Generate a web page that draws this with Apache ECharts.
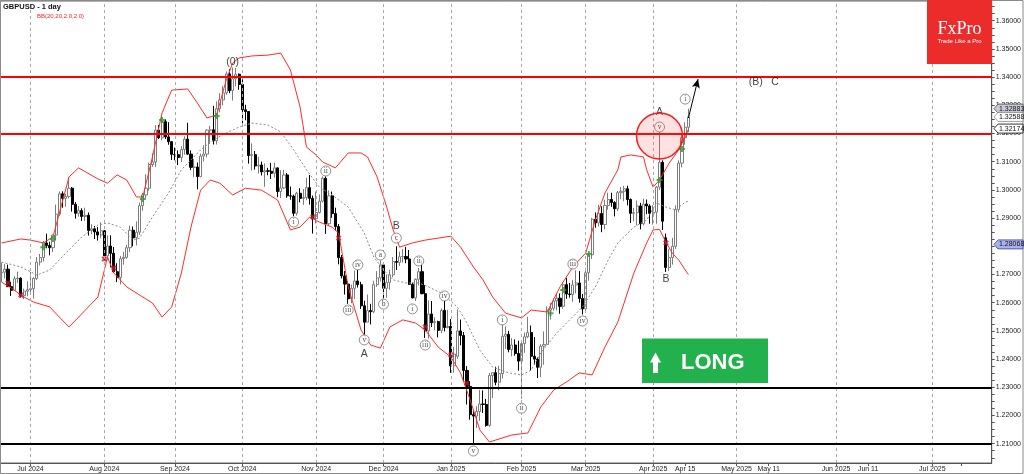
<!DOCTYPE html>
<html><head><meta charset="utf-8">
<script src="https://cdn.jsdelivr.net/npm/echarts@6/dist/echarts.min.js"></script>
<style>html,body{margin:0;padding:0;background:#fff}#c{width:1024px;height:474px}</style>
</head><body><div id="c"></div>
<script>
// ---- DATA: daily candles [date, open, high, low, close] ----
const candleRows = [
['2024-06-18',1.2706,1.2742,1.2673,1.2708],['2024-06-19',1.2708,1.2738,1.2686,1.2719],['2024-06-20',1.2719,1.2735,1.2656,1.2657],
['2024-06-21',1.2657,1.2673,1.2624,1.2644],['2024-06-24',1.2644,1.2694,1.2643,1.2685],['2024-06-25',1.2685,1.2710,1.2670,1.2687],
['2024-06-26',1.2687,1.2690,1.2618,1.2625],['2024-06-27',1.2625,1.2650,1.2613,1.2641],['2024-06-28',1.2641,1.2676,1.2623,1.2646],
['2024-07-01',1.2646,1.2709,1.2635,1.2650],['2024-07-02',1.2650,1.2690,1.2615,1.2686],['2024-07-03',1.2686,1.2762,1.2680,1.2744],
['2024-07-04',1.2744,1.2773,1.2732,1.2760],['2024-07-05',1.2760,1.2819,1.2746,1.2812],['2024-07-08',1.2812,1.2845,1.2793,1.2803],
['2024-07-09',1.2803,1.2816,1.2768,1.2795],['2024-07-10',1.2795,1.2841,1.2780,1.2840],['2024-07-11',1.2840,1.2948,1.2820,1.2914],
['2024-07-12',1.2914,1.2994,1.2908,1.2986],['2024-07-15',1.2986,1.2995,1.2937,1.2970],['2024-07-16',1.2970,1.2986,1.2940,1.2977],
['2024-07-17',1.2977,1.3044,1.2970,1.3006],['2024-07-18',1.3006,1.3010,1.2923,1.2949],['2024-07-19',1.2949,1.2957,1.2898,1.2917],
['2024-07-22',1.2917,1.2943,1.2905,1.2927],['2024-07-23',1.2927,1.2935,1.2890,1.2906],['2024-07-24',1.2906,1.2937,1.2890,1.2910],
['2024-07-25',1.2910,1.2920,1.2838,1.2856],['2024-07-26',1.2856,1.2878,1.2843,1.2862],['2024-07-29',1.2862,1.2872,1.2826,1.2851],
['2024-07-30',1.2851,1.2868,1.2820,1.2840],['2024-07-31',1.2840,1.2885,1.2828,1.2855],
['2024-08-01',1.2855,1.2858,1.2750,1.2766],['2024-08-02',1.2766,1.2839,1.2751,1.2801],['2024-08-05',1.2801,1.2839,1.2725,1.2775],
['2024-08-06',1.2775,1.2798,1.2705,1.2710],['2024-08-07',1.2710,1.2740,1.2673,1.2689],['2024-08-08',1.2689,1.2766,1.2665,1.2756],
['2024-08-09',1.2756,1.2780,1.2735,1.2761],['2024-08-12',1.2761,1.2805,1.2755,1.2795],['2024-08-13',1.2795,1.2873,1.2780,1.2857],
['2024-08-14',1.2857,1.2870,1.2800,1.2830],['2024-08-15',1.2830,1.2888,1.2803,1.2850],['2024-08-16',1.2850,1.2955,1.2840,1.2944],
['2024-08-19',1.2944,1.2989,1.2926,1.2982],['2024-08-20',1.2982,1.3055,1.2970,1.3006],['2024-08-21',1.3006,1.3097,1.2997,1.3090],
['2024-08-22',1.3090,1.3130,1.3082,1.3099],['2024-08-23',1.3099,1.3230,1.3081,1.3212],['2024-08-26',1.3212,1.3230,1.3180,1.3185],
['2024-08-27',1.3185,1.3266,1.3176,1.3242],['2024-08-28',1.3242,1.3250,1.3180,1.3188],['2024-08-29',1.3188,1.3240,1.3160,1.3171],
['2024-08-30',1.3171,1.3173,1.3106,1.3126],
['2024-09-02',1.3126,1.3150,1.3105,1.3125],['2024-09-03',1.3125,1.3140,1.3088,1.3115],['2024-09-04',1.3115,1.3155,1.3099,1.3143],
['2024-09-05',1.3143,1.3190,1.3125,1.3180],['2024-09-06',1.3180,1.3238,1.3124,1.3127],['2024-09-09',1.3127,1.3140,1.3070,1.3080],
['2024-09-10',1.3080,1.3110,1.3045,1.3081],['2024-09-11',1.3081,1.3097,1.3002,1.3047],['2024-09-12',1.3047,1.3129,1.3045,1.3120],
['2024-09-13',1.3120,1.3158,1.3101,1.3127],['2024-09-16',1.3127,1.3215,1.3115,1.3212],['2024-09-17',1.3212,1.3227,1.3163,1.3213],
['2024-09-18',1.3213,1.3298,1.3161,1.3174],['2024-09-19',1.3174,1.3314,1.3161,1.3288],['2024-09-20',1.3288,1.3343,1.3275,1.3319],
['2024-09-23',1.3319,1.3368,1.3300,1.3344],['2024-09-24',1.3344,1.3420,1.3337,1.3411],['2024-09-25',1.3411,1.3428,1.3343,1.3352],
['2024-09-26',1.3352,1.3434,1.3317,1.3394],['2024-09-27',1.3394,1.3433,1.3367,1.3410],['2024-09-30',1.3410,1.3413,1.3355,1.3374],
['2024-10-01',1.3374,1.3392,1.3236,1.3284],['2024-10-02',1.3284,1.3302,1.3247,1.3278],['2024-10-03',1.3278,1.3279,1.3093,1.3122],
['2024-10-04',1.3122,1.3165,1.3069,1.3125],['2024-10-07',1.3125,1.3138,1.3072,1.3085],['2024-10-08',1.3085,1.3117,1.3058,1.3088],
['2024-10-09',1.3088,1.3100,1.3051,1.3064],['2024-10-10',1.3064,1.3094,1.3011,1.3068],['2024-10-11',1.3068,1.3078,1.3052,1.3066],
['2024-10-14',1.3066,1.3096,1.3039,1.3059],['2024-10-15',1.3059,1.3097,1.3044,1.3078],['2024-10-16',1.3078,1.3080,1.2974,1.2994],
['2024-10-17',1.2994,1.3070,1.2971,1.3007],['2024-10-18',1.3007,1.3071,1.3003,1.3053],['2024-10-21',1.3053,1.3060,1.2972,1.2979],
['2024-10-22',1.2979,1.3012,1.2965,1.2978],['2024-10-23',1.2978,1.2983,1.2907,1.2917],['2024-10-24',1.2917,1.2993,1.2909,1.2988],
['2024-10-25',1.2988,1.3006,1.2956,1.2970],['2024-10-28',1.2970,1.3003,1.2947,1.2973],['2024-10-29',1.2973,1.3043,1.2963,1.3008],
['2024-10-30',1.3008,1.3053,1.2948,1.2970],['2024-10-31',1.2970,1.2980,1.2845,1.2898],
['2024-11-01',1.2898,1.2994,1.2881,1.2920],['2024-11-04',1.2920,1.2984,1.2916,1.2960],['2024-11-05',1.2960,1.3048,1.2955,1.3041],
['2024-11-06',1.3041,1.3048,1.2844,1.2880],['2024-11-07',1.2880,1.2998,1.2872,1.2979],['2024-11-08',1.2979,1.2994,1.2901,1.2916],
['2024-11-11',1.2916,1.2937,1.2856,1.2870],['2024-11-12',1.2870,1.2879,1.2736,1.2760],['2024-11-13',1.2760,1.2769,1.2686,1.2695],
['2024-11-14',1.2695,1.2712,1.2629,1.2666],['2024-11-15',1.2666,1.2675,1.2596,1.2614],['2024-11-18',1.2614,1.2664,1.2598,1.2651],
['2024-11-19',1.2651,1.2714,1.2613,1.2677],['2024-11-20',1.2677,1.2716,1.2654,1.2664],['2024-11-21',1.2664,1.2674,1.2578,1.2589],
['2024-11-22',1.2589,1.2607,1.2487,1.2531],['2024-11-25',1.2531,1.2629,1.2531,1.2572],['2024-11-26',1.2572,1.2596,1.2523,1.2568],
['2024-11-27',1.2568,1.2678,1.2563,1.2664],['2024-11-28',1.2664,1.2712,1.2656,1.2688],['2024-11-29',1.2688,1.2749,1.2675,1.2734],
['2024-12-02',1.2734,1.2740,1.2617,1.2651],['2024-12-03',1.2651,1.2700,1.2617,1.2672],['2024-12-04',1.2672,1.2717,1.2646,1.2699],
['2024-12-05',1.2699,1.2762,1.2690,1.2746],['2024-12-06',1.2746,1.2800,1.2716,1.2743],['2024-12-09',1.2743,1.2781,1.2730,1.2763],
['2024-12-10',1.2763,1.2790,1.2742,1.2764],['2024-12-11',1.2764,1.2798,1.2740,1.2755],['2024-12-12',1.2755,1.2787,1.2663,1.2665],
['2024-12-13',1.2665,1.2671,1.2615,1.2617],['2024-12-16',1.2617,1.2686,1.2606,1.2683],['2024-12-17',1.2683,1.2723,1.2661,1.2710],
['2024-12-18',1.2710,1.2750,1.2630,1.2632],['2024-12-19',1.2632,1.2663,1.2475,1.2500],['2024-12-20',1.2500,1.2608,1.2473,1.2560],
['2024-12-23',1.2560,1.2606,1.2514,1.2529],['2024-12-24',1.2529,1.2548,1.2502,1.2533],['2024-12-26',1.2533,1.2536,1.2477,1.2502],
['2024-12-27',1.2502,1.2580,1.2492,1.2573],['2024-12-30',1.2573,1.2607,1.2498,1.2512],['2024-12-31',1.2512,1.2575,1.2509,1.2516],
['2025-01-02',1.2516,1.2542,1.2351,1.2376],['2025-01-03',1.2376,1.2444,1.2352,1.2418],['2025-01-06',1.2410,1.2576,1.2400,1.2500],
['2025-01-07',1.2500,1.2540,1.2449,1.2484],['2025-01-08',1.2484,1.2496,1.2322,1.2360],['2025-01-09',1.2360,1.2375,1.2239,1.2303],
['2025-01-10',1.2303,1.2322,1.2185,1.2203],['2025-01-13',1.2203,1.2219,1.2100,1.2198],['2025-01-14',1.2198,1.2233,1.2156,1.2214],
['2025-01-15',1.2214,1.2291,1.2181,1.2241],['2025-01-16',1.2241,1.2289,1.2209,1.2239],['2025-01-17',1.2239,1.2259,1.2160,1.2165],
['2025-01-20',1.2165,1.2351,1.2160,1.2342],['2025-01-21',1.2342,1.2352,1.2262,1.2352],['2025-01-22',1.2352,1.2373,1.2307,1.2318],
['2025-01-23',1.2318,1.2376,1.2289,1.2349],['2025-01-24',1.2349,1.2523,1.2331,1.2481],['2025-01-27',1.2481,1.2516,1.2436,1.2488],
['2025-01-28',1.2488,1.2500,1.2424,1.2434],['2025-01-29',1.2434,1.2474,1.2410,1.2450],['2025-01-30',1.2450,1.2470,1.2412,1.2420],
['2025-01-31',1.2420,1.2465,1.2359,1.2393],
['2025-02-03',1.2393,1.2412,1.2260,1.2455],['2025-02-04',1.2455,1.2494,1.2422,1.2479],['2025-02-05',1.2479,1.2550,1.2474,1.2494],
['2025-02-06',1.2494,1.2519,1.2359,1.2410],['2025-02-07',1.2410,1.2478,1.2380,1.2400],['2025-02-10',1.2400,1.2406,1.2333,1.2371],
['2025-02-11',1.2371,1.2453,1.2336,1.2446],['2025-02-12',1.2446,1.2498,1.2380,1.2452],['2025-02-13',1.2452,1.2587,1.2451,1.2574],
['2025-02-14',1.2574,1.2599,1.2540,1.2580],['2025-02-17',1.2580,1.2615,1.2572,1.2606],['2025-02-18',1.2606,1.2635,1.2573,1.2616],
['2025-02-19',1.2616,1.2633,1.2561,1.2587],['2025-02-20',1.2587,1.2673,1.2578,1.2664],['2025-02-21',1.2664,1.2688,1.2614,1.2631],
['2025-02-24',1.2631,1.2670,1.2618,1.2629],['2025-02-25',1.2629,1.2680,1.2603,1.2663],['2025-02-26',1.2663,1.2715,1.2633,1.2670],
['2025-02-27',1.2670,1.2712,1.2600,1.2615],['2025-02-28',1.2615,1.2631,1.2558,1.2578],
['2025-03-03',1.2578,1.2718,1.2564,1.2706],['2025-03-04',1.2706,1.2778,1.2678,1.2770],['2025-03-05',1.2770,1.2901,1.2755,1.2896],
['2025-03-06',1.2896,1.2920,1.2866,1.2883],['2025-03-07',1.2883,1.2947,1.2870,1.2916],['2025-03-10',1.2916,1.2942,1.2850,1.2877],
['2025-03-11',1.2877,1.2965,1.2860,1.2945],['2025-03-12',1.2945,1.2990,1.2930,1.2966],['2025-03-13',1.2966,1.2990,1.2940,1.2955],
['2025-03-14',1.2955,1.2960,1.2906,1.2933],['2025-03-17',1.2933,1.2996,1.2925,1.2990],['2025-03-18',1.2990,1.3010,1.2967,1.2995],
['2025-03-19',1.2995,1.3014,1.2960,1.3004],['2025-03-20',1.3004,1.3015,1.2945,1.2966],['2025-03-21',1.2966,1.2970,1.2883,1.2917],
['2025-03-24',1.2917,1.2936,1.2889,1.2919],['2025-03-25',1.2919,1.2962,1.2874,1.2943],['2025-03-26',1.2943,1.2954,1.2860,1.2880],
['2025-03-27',1.2880,1.2969,1.2874,1.2950],['2025-03-28',1.2950,1.2966,1.2914,1.2943],['2025-03-31',1.2943,1.2949,1.2880,1.2917],
['2025-04-01',1.2917,1.2946,1.2877,1.2921],['2025-04-02',1.2921,1.3014,1.2880,1.3010],['2025-04-03',1.3010,1.3207,1.3000,1.3098],
['2025-04-04',1.3098,1.3105,1.2858,1.2889],['2025-04-07',1.2830,1.2845,1.2709,1.2725],['2025-04-08',1.2725,1.2790,1.2712,1.2760],
['2025-04-09',1.2760,1.2830,1.2735,1.2800],['2025-04-10',1.2800,1.2945,1.2790,1.2930],['2025-04-11',1.2930,1.3105,1.2920,1.3095],
['2025-04-14',1.3095,1.3195,1.3080,1.3185],['2025-04-15',1.3185,1.3240,1.3160,1.3222],['2025-04-16',1.3222,1.3288,1.3205,1.3259]
];
// empty future area of the time scale (calendar days)
const futureFirstDay = '2025-04-17';
const futureLastDay = '2025-07-19';

// time-scale labels (date -> text); '' = tick only
const xTickLabels = {
 '2024-07-01':'Jul 2024','2024-08-01':'Aug 2024','2024-09-02':'Sep 2024','2024-10-01':'Oct 2024',
 '2024-11-01':'Nov 2024','2024-12-02':'Dec 2024','2025-01-02':'Jan 2025','2025-02-03':'Feb 2025',
 '2025-03-03':'Mar 2025','2025-04-01':'Apr 2025','2025-04-15':'Apr 15','2025-05-01':'May 2025',
 '2025-05-11':'May 11','2025-06-01':'Jun 2025','2025-06-11':'Jun 11','2025-07-01':'Jul 2025','2025-07-10':''
};
const monthGridDates = ['2024-07-01','2024-08-01','2024-09-02','2024-10-01','2024-11-01','2024-12-02','2025-01-02',
 '2025-02-03','2025-03-03','2025-04-01','2025-05-01','2025-06-01','2025-07-01'];
const yTickLabels = [1.21,1.22,1.23,1.24,1.25,1.26,1.27,1.28,1.29,1.30,1.31,1.32,1.33,1.34,1.35,1.36];

// Bollinger bands: [bar index, price]
const upperBand = [[0,1.2812],[6,1.2826],[9,1.2822],[13,1.2812],[16,1.2833],[21,1.3046],[24,1.3078],[30,1.3039],[33,1.3024],
 [36,1.3053],[39,1.3035],[42,1.2975],[44,1.2975],[47,1.3117],[50,1.3273],[53,1.3354],[58,1.3358],[61,1.3308],[64,1.3255],
 [67,1.3266],[70,1.3390],[72,1.3450],[74,1.3468],[78,1.3475],[83,1.3478],[87,1.3485],[90,1.3425],[93,1.3294],[95,1.3152],
 [98,1.3124],[100,1.3099],[104,1.3078],[108,1.3131],[112,1.3131],[114,1.3117],[117,1.3046],[120,1.2939],[122,1.2858],
 [124,1.2797],[128,1.2812],[132,1.2822],[136,1.2829],[140,1.2836],[143,1.2797],[147,1.2727],[150,1.2681],[153,1.2620],
 [157,1.2563],[162,1.2546],[165,1.2574],[170,1.2567],[174,1.2656],[178,1.2727],[182,1.2776],[185,1.2893],[188,1.2989],
 [192,1.3071],[193,1.3117],[196,1.3124],[200,1.3117],[201,1.3071],[203,1.3010],[205,1.3035],[208,1.3095],[211,1.3142],
 [213,1.3188],[214,1.3215]];
const middleBand = [[0,1.2744],[6,1.2727],[11,1.2698],[15,1.2716],[20,1.2776],[25,1.2833],[30,1.2875],[33,1.2883],[37,1.2868],
 [41,1.2822],[43,1.2829],[47,1.2904],[52,1.2989],[56,1.3071],[59,1.3106],[62,1.3142],[66,1.3177],[70,1.3202],[74,1.3223],
 [78,1.3237],[83,1.3230],[87,1.3205],[91,1.3142],[95,1.3071],[99,1.3010],[103,1.2982],[108,1.2939],[113,1.2847],[116,1.2762],
 [119,1.2716],[122,1.2681],[126,1.2670],[130,1.2670],[133,1.2656],[137,1.2634],[142,1.2585],[145,1.2528],[149,1.2432],
 [153,1.2372],[158,1.2351],[162,1.2344],[165,1.2361],[168,1.2422],[173,1.2493],[177,1.2539],[181,1.2585],[185,1.2656],
 [189,1.2751],[192,1.2812],[197,1.2868],[201,1.2893],[204,1.2954],[207,1.2939],[210,1.2929],[213,1.2957],[214,1.2960]];
const lowerBand = [[0,1.2673],[3,1.2652],[7,1.2620],[10,1.2602],[15,1.2585],[18,1.2549],[21,1.2514],[24,1.2549],[30,1.2620],
 [33,1.2762],[35,1.2705],[39,1.2656],[43,1.2627],[47,1.2599],[50,1.2549],[53,1.2585],[56,1.2705],[59,1.2868],[62,1.2999],
 [65,1.3035],[68,1.3024],[72,1.2982],[76,1.3006],[81,1.2999],[86,1.2964],[90,1.2858],[93,1.2868],[96,1.2904],[99,1.2886],
 [103,1.2868],[105,1.2847],[108,1.2656],[112,1.2503],[115,1.2450],[118,1.2439],[121,1.2514],[125,1.2539],[129,1.2528],
 [132,1.2503],[136,1.2443],[140,1.2407],[143,1.2351],[146,1.2255],[149,1.2149],[152,1.2106],[159,1.2131],[164,1.2138],
 [168,1.2230],[172,1.2290],[176,1.2319],[180,1.2351],[184,1.2344],[188,1.2443],[192,1.2531],[197,1.2705],[201,1.2812],
 [203,1.2858],[205,1.2860],[207,1.2815],[209,1.2775],[211,1.2751],[213,1.2716],[214,1.2700]];

// band-touch markers [bar index, price]
const greenMarks = [[13,1.2797],[16,1.2826],[44,1.2968],[50,1.3248],[67,1.3262],[171,1.2563],[175,1.2645],[183,1.2773],[205,1.3035],[212,1.3145]];
const redMarks = [[2,1.2670],[6,1.2627],[32,1.2755],[35,1.2723],[97,1.2904],[105,1.2829],[132,1.2514],[140,1.2415],[145,1.2315],[207,1.2812]];

// horizontal levels
const levelPrices = [1.3400, 1.3223, 1.3215, 1.2317, 1.2094];
const levelColors = ['#ff0000', '#b4b4b4', '#ff0000', '#000000', '#000000'];
const levelWidths = [2, 1, 2, 2, 2];

// right-scale price tags
const tagPrices = [1.32883, 1.32588, 1.32174, 1.28068];
const tagFills = ['#c9cbd8', '#ffffff', '#ffffff', '#aab2ee'];
const tagStrokes = ['#444', '#888', '#000', '#3340aa'];

// wave annotations [text, bar index, price]
const circledNotes = [['i',91,1.2886],['ii',101,1.3067],['iii',108,1.2574],['iv',111,1.2734],['v',113,1.2468],
 ['a',118,1.2769],['b',119,1.2595],['c',123,1.2829],['i',128,1.2578],['ii',130,1.2748],['iii',132,1.2450],['iv',138,1.2624],
 ['v',147,1.2074],['i',156,1.2539],['ii',162,1.2226],['iii',178,1.2737],['iv',181,1.2535],['v',205,1.3223],['i',213,1.3322]];
const textNotes = [['(0)',72,1.3454],['A',113,1.2418],['B',123,1.2872],['A',205,1.3276],['B',207,1.2684],['(B)',235,1.3384],['C',241,1.3384]];
const arrowFrom = [214, 1.3255];
const arrowTo = [217, 1.3393];
const circleCenter = [205, 1.3191];

// ---- build ----
const categories = candleRows.map(r => r[0]);
(function(){
  let d = new Date(futureFirstDay + 'T00:00:00Z');
  const end = new Date(futureLastDay + 'T00:00:00Z');
  while (d <= end) { categories.push(d.toISOString().slice(0,10)); d = new Date(d.getTime() + 86400000); }
})();
const yMinorTicks = [];
for (let k = 0; k <= 64; k++) yMinorTicks.push(+(1.205 + k*0.0025).toFixed(4));

const chart = echarts.init(document.getElementById('c'), null, {renderer:'canvas'});
const FONT = '"Liberation Sans", Arial, sans-serif';
const plusPath = 'path://M2,0H4V2H6V4H4V6H2V4H0V2H2Z';

const option = {
  animation: false,
  backgroundColor: '#fff',
  grid: {left:0, top:1, right:31, bottom:11, show:true, borderColor:'#666', borderWidth:1, backgroundColor:'#fff'},
  xAxis: {
    type:'category', data: categories, boundaryGap:true,
    axisLine:{show:true, lineStyle:{color:'#555', width:1}},
    axisTick:{show:true, alignWithLabel:true, length:3, lineStyle:{color:'#555'},
      interval:(i, v) => Object.prototype.hasOwnProperty.call(xTickLabels, v)},
    axisLabel:{show:true, fontSize:7, color:'#222', fontFamily:FONT, margin:3, hideOverlap:false,
      interval:(i, v) => !!xTickLabels[v], formatter:(v) => xTickLabels[v] || ''},
    splitLine:{show:false}
  },
  yAxis: {
    type:'value', position:'right', min:1.203156, max:1.366986, scale:true,
    axisLine:{show:true, lineStyle:{color:'#555', width:1}},
    axisTick:{show:true, length:3, customValues: yMinorTicks, lineStyle:{color:'#555'}},
    axisLabel:{show:true, customValues: yTickLabels, fontSize:7, color:'#222', fontFamily:FONT, margin:4,
      formatter:(v) => v.toFixed(5)},
    splitLine:{show:false}
  },
  series: [
    { type:'line', name:'grid', data:[], silent:true, z:1,
      markLine:{silent:true, symbol:['none','none'], label:{show:false}, animation:false,
        lineStyle:{color:'#a8a8a8', width:1, type:[3,3]},
        data: monthGridDates.map(d => ({xAxis:d}))} },
    { type:'candlestick', name:'GBPUSD', z:2, barWidth:2.6,
      data: candleRows.map(r => [r[1], r[4], r[3], r[2]]),
      itemStyle:{color:'#ffffff', color0:'#000000', borderColor:'#7c7c7c', borderColor0:'#000000', borderWidth:1},
      markLine:{silent:true, symbol:['none','none'], label:{show:false}, animation:false,
        data: levelPrices.map((p, i) => ({yAxis:p, lineStyle:{color:levelColors[i], width:levelWidths[i], type:'solid'}}))} },
    { type:'line', name:'BB mid', data: middleBand, symbol:'none', silent:true, z:3,
      lineStyle:{color:'#8a8a8a', width:1, type:[2,2]} },
    { type:'line', name:'BB up', data: upperBand, symbol:'none', silent:true, z:3,
      lineStyle:{color:'#ff2a2a', width:1} },
    { type:'line', name:'BB low', data: lowerBand, symbol:'none', silent:true, z:3,
      lineStyle:{color:'#ff2a2a', width:1} },
    { type:'scatter', name:'up', data: greenMarks, symbol: plusPath, symbolSize:6, z:4,
      itemStyle:{color:'#1f9e2a'} },
    { type:'scatter', name:'down', data: redMarks, symbol: plusPath, symbolSize:6, symbolRotate:45, z:4,
      itemStyle:{color:'#c0182a'} },
    { type:'scatter', name:'waves', z:6, symbol:'circle', symbolSize:10,
      data: circledNotes.map(n => ({name:n[0], value:[n[1], n[2]]})),
      itemStyle:{color:'#ffffff', borderColor:'#555', borderWidth:0.8},
      label:{show:true, position:'inside', formatter:(p) => p.name, fontSize:7.5,
        fontFamily:'"Liberation Serif", serif', color:'#222'} },
    { type:'scatter', name:'labels', z:6, symbolSize:1,
      data: textNotes.map(n => ({name:n[0], value:[n[1], n[2]]})),
      itemStyle:{color:'rgba(0,0,0,0)'},
      label:{show:true, position:'inside', formatter:(p) => p.name, fontSize:10.5, fontFamily:FONT, color:'#111'},
      markLine:{silent:true, symbol:['none','arrow'], symbolSize:[6,9], label:{show:false}, animation:false,
        lineStyle:{color:'#000', width:1, type:'solid'},
        data:[[{coord:[categories[arrowFrom[0]], arrowFrom[1]]}, {coord:[categories[arrowTo[0]], arrowTo[1]]}]]} }
  ]
};
chart.setOption(option);

// ---- overlays positioned through the chart scales ----
const graphics = [];
graphics.push({type:'text', left:3, top:3, z:100, style:{text:'GBPUSD - 1 day', font:'bold 7.5px ' + FONT, fill:'#111'}});
graphics.push({type:'text', left:37, top:13, z:100, style:{text:'BB(20,20,2.0,2.0)', font:'6px ' + FONT, fill:'#ff2020'}});
// FxPro badge
graphics.push({type:'rect', z:100, shape:{x:927, y:0, width:65, height:64}, style:{fill:'#ec2b2b'}});
graphics.push({type:'text', z:101, x:959.5, y:29, style:{text:'FxPro', font:'18px "Liberation Serif", serif', fill:'#fff', align:'center', verticalAlign:'middle'}});
graphics.push({type:'text', z:101, x:959.5, y:41, style:{text:'Trade Like a Pro', font:'6px ' + FONT, fill:'#fff', align:'center', verticalAlign:'middle'}});
// LONG box
graphics.push({type:'rect', z:100, shape:{x:642, y:338.5, width:126, height:44.5}, style:{fill:'#22b14c'}});
graphics.push({type:'polygon', z:101, shape:{points:[[655.5,352.5],[661,362.5],[658,362.5],[658,373],[653,373],[653,362.5],[650,362.5]]}, style:{fill:'#fff'}});
graphics.push({type:'text', z:101, x:681, y:362.5, style:{text:'LONG', font:'bold 22px ' + FONT, fill:'#fff', align:'left', verticalAlign:'middle'}});
// highlight circle
const cc = chart.convertToPixel({gridIndex:0}, [categories[circleCenter[0]], circleCenter[1]]);
graphics.push({type:'circle', z:50, shape:{cx:cc[0], cy:cc[1], r:23}, style:{fill:'rgba(255,70,70,0.16)', stroke:'#ff1a1a', lineWidth:1.5}});
// price tags on the right scale
tagPrices.forEach((p, i) => {
  const y = chart.convertToPixel({yAxisIndex:0}, p);
  graphics.push({type:'polygon', z:100, shape:{points:[[994,y],[998,y-4.5],[1023,y-4.5],[1023,y+4.5],[998,y+4.5]]},
    style:{fill:tagFills[i], stroke:tagStrokes[i], lineWidth:0.8}});
  graphics.push({type:'text', z:101, x:999, y:y, style:{text:p.toFixed(5), font:'7px ' + FONT, fill:'#111', verticalAlign:'middle'}});
});
// outer frame
graphics.push({type:'rect', z:99, shape:{x:0.5, y:0.5, width:1022.5, height:473}, style:{fill:'none', stroke:'#8a8a8a', lineWidth:1}});
chart.setOption({graphic: graphics});
</script>
</body></html>
